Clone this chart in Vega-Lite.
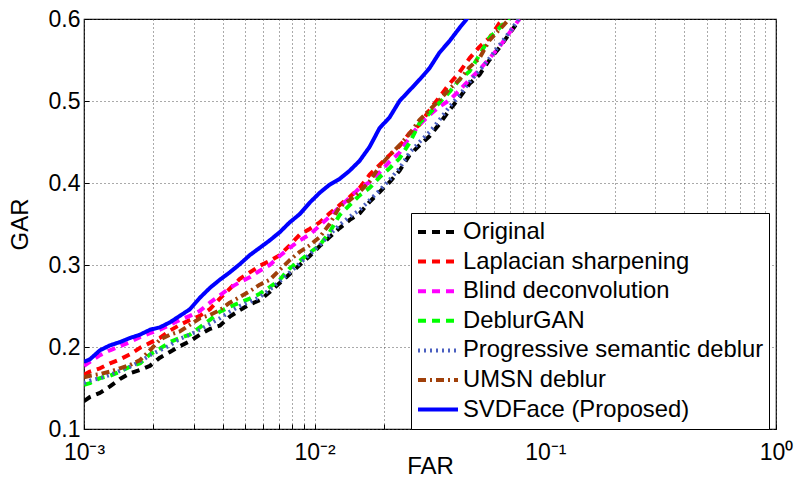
{
  "$schema": "https://vega.github.io/schema/vega-lite/v6.json",
  "width": 692,
  "height": 410,
  "autosize": "none",
  "padding": {"left": 84, "top": 19, "right": 19, "bottom": 51},
  "background": "white",
  "config": {"font": "Liberation Sans", "view": {"stroke": "black", "strokeWidth": 1.2}},
  "data": {"values": [
    {"far": 0.001, "Original": 0.134, "Laplacian sharpening": 0.166, "Blind deconvolution": 0.177, "DeblurGAN": 0.154, "Progressive semantic deblur": 0.156, "UMSN deblur": 0.163, "SVDFace (Proposed)": 0.182},
    {"far": 0.001061, "Original": 0.139, "Laplacian sharpening": 0.170, "Blind deconvolution": 0.182, "DeblurGAN": 0.156, "Progressive semantic deblur": 0.159, "UMSN deblur": 0.165, "SVDFace (Proposed)": 0.185},
    {"far": 0.001173, "Original": 0.144, "Laplacian sharpening": 0.174, "Blind deconvolution": 0.190, "DeblurGAN": 0.162, "Progressive semantic deblur": 0.162, "UMSN deblur": 0.167, "SVDFace (Proposed)": 0.196},
    {"far": 0.001296, "Original": 0.152, "Laplacian sharpening": 0.180, "Blind deconvolution": 0.196, "DeblurGAN": 0.165, "Progressive semantic deblur": 0.166, "UMSN deblur": 0.170, "SVDFace (Proposed)": 0.202},
    {"far": 0.001432, "Original": 0.161, "Laplacian sharpening": 0.185, "Blind deconvolution": 0.201, "DeblurGAN": 0.170, "Progressive semantic deblur": 0.171, "UMSN deblur": 0.174, "SVDFace (Proposed)": 0.206},
    {"far": 0.001582, "Original": 0.168, "Laplacian sharpening": 0.191, "Blind deconvolution": 0.206, "DeblurGAN": 0.176, "Progressive semantic deblur": 0.176, "UMSN deblur": 0.178, "SVDFace (Proposed)": 0.211},
    {"far": 0.001748, "Original": 0.172, "Laplacian sharpening": 0.199, "Blind deconvolution": 0.212, "DeblurGAN": 0.180, "Progressive semantic deblur": 0.182, "UMSN deblur": 0.184, "SVDFace (Proposed)": 0.215},
    {"far": 0.001931, "Original": 0.177, "Laplacian sharpening": 0.205, "Blind deconvolution": 0.217, "DeblurGAN": 0.191, "Progressive semantic deblur": 0.190, "UMSN deblur": 0.196, "SVDFace (Proposed)": 0.221},
    {"far": 0.002133, "Original": 0.187, "Laplacian sharpening": 0.211, "Blind deconvolution": 0.221, "DeblurGAN": 0.198, "Progressive semantic deblur": 0.196, "UMSN deblur": 0.209, "SVDFace (Proposed)": 0.224},
    {"far": 0.002357, "Original": 0.194, "Laplacian sharpening": 0.220, "Blind deconvolution": 0.227, "DeblurGAN": 0.206, "Progressive semantic deblur": 0.202, "UMSN deblur": 0.215, "SVDFace (Proposed)": 0.230},
    {"far": 0.002604, "Original": 0.201, "Laplacian sharpening": 0.227, "Blind deconvolution": 0.233, "DeblurGAN": 0.211, "Progressive semantic deblur": 0.210, "UMSN deblur": 0.219, "SVDFace (Proposed)": 0.238},
    {"far": 0.002877, "Original": 0.207, "Laplacian sharpening": 0.233, "Blind deconvolution": 0.238, "DeblurGAN": 0.215, "Progressive semantic deblur": 0.215, "UMSN deblur": 0.227, "SVDFace (Proposed)": 0.246},
    {"far": 0.003178, "Original": 0.215, "Laplacian sharpening": 0.238, "Blind deconvolution": 0.244, "DeblurGAN": 0.224, "Progressive semantic deblur": 0.221, "UMSN deblur": 0.235, "SVDFace (Proposed)": 0.260},
    {"far": 0.003512, "Original": 0.222, "Laplacian sharpening": 0.246, "Blind deconvolution": 0.254, "DeblurGAN": 0.233, "Progressive semantic deblur": 0.228, "UMSN deblur": 0.239, "SVDFace (Proposed)": 0.272},
    {"far": 0.003879, "Original": 0.226, "Laplacian sharpening": 0.259, "Blind deconvolution": 0.263, "DeblurGAN": 0.243, "Progressive semantic deblur": 0.235, "UMSN deblur": 0.245, "SVDFace (Proposed)": 0.282},
    {"far": 0.004285, "Original": 0.237, "Laplacian sharpening": 0.271, "Blind deconvolution": 0.272, "DeblurGAN": 0.249, "Progressive semantic deblur": 0.243, "UMSN deblur": 0.254, "SVDFace (Proposed)": 0.291},
    {"far": 0.004735, "Original": 0.245, "Laplacian sharpening": 0.283, "Blind deconvolution": 0.279, "DeblurGAN": 0.254, "Progressive semantic deblur": 0.250, "UMSN deblur": 0.261, "SVDFace (Proposed)": 0.301},
    {"far": 0.005232, "Original": 0.252, "Laplacian sharpening": 0.291, "Blind deconvolution": 0.285, "DeblurGAN": 0.259, "Progressive semantic deblur": 0.255, "UMSN deblur": 0.268, "SVDFace (Proposed)": 0.312},
    {"far": 0.00578, "Original": 0.257, "Laplacian sharpening": 0.299, "Blind deconvolution": 0.293, "DeblurGAN": 0.265, "Progressive semantic deblur": 0.261, "UMSN deblur": 0.276, "SVDFace (Proposed)": 0.321},
    {"far": 0.006386, "Original": 0.267, "Laplacian sharpening": 0.305, "Blind deconvolution": 0.300, "DeblurGAN": 0.273, "Progressive semantic deblur": 0.270, "UMSN deblur": 0.282, "SVDFace (Proposed)": 0.330},
    {"far": 0.007055, "Original": 0.278, "Laplacian sharpening": 0.312, "Blind deconvolution": 0.311, "DeblurGAN": 0.282, "Progressive semantic deblur": 0.280, "UMSN deblur": 0.294, "SVDFace (Proposed)": 0.340},
    {"far": 0.007795, "Original": 0.289, "Laplacian sharpening": 0.324, "Blind deconvolution": 0.321, "DeblurGAN": 0.296, "Progressive semantic deblur": 0.291, "UMSN deblur": 0.306, "SVDFace (Proposed)": 0.352},
    {"far": 0.008612, "Original": 0.300, "Laplacian sharpening": 0.337, "Blind deconvolution": 0.330, "DeblurGAN": 0.305, "Progressive semantic deblur": 0.302, "UMSN deblur": 0.316, "SVDFace (Proposed)": 0.362},
    {"far": 0.009515, "Original": 0.311, "Laplacian sharpening": 0.344, "Blind deconvolution": 0.337, "DeblurGAN": 0.315, "Progressive semantic deblur": 0.313, "UMSN deblur": 0.324, "SVDFace (Proposed)": 0.376},
    {"far": 0.01051, "Original": 0.323, "Laplacian sharpening": 0.352, "Blind deconvolution": 0.348, "DeblurGAN": 0.324, "Progressive semantic deblur": 0.324, "UMSN deblur": 0.334, "SVDFace (Proposed)": 0.388},
    {"far": 0.01161, "Original": 0.334, "Laplacian sharpening": 0.363, "Blind deconvolution": 0.359, "DeblurGAN": 0.340, "Progressive semantic deblur": 0.337, "UMSN deblur": 0.350, "SVDFace (Proposed)": 0.398},
    {"far": 0.01283, "Original": 0.345, "Laplacian sharpening": 0.373, "Blind deconvolution": 0.371, "DeblurGAN": 0.361, "Progressive semantic deblur": 0.349, "UMSN deblur": 0.371, "SVDFace (Proposed)": 0.405},
    {"far": 0.01418, "Original": 0.355, "Laplacian sharpening": 0.383, "Blind deconvolution": 0.382, "DeblurGAN": 0.373, "Progressive semantic deblur": 0.359, "UMSN deblur": 0.379, "SVDFace (Proposed)": 0.415},
    {"far": 0.01566, "Original": 0.363, "Laplacian sharpening": 0.394, "Blind deconvolution": 0.394, "DeblurGAN": 0.385, "Progressive semantic deblur": 0.367, "UMSN deblur": 0.389, "SVDFace (Proposed)": 0.427},
    {"far": 0.0173, "Original": 0.377, "Laplacian sharpening": 0.410, "Blind deconvolution": 0.401, "DeblurGAN": 0.394, "Progressive semantic deblur": 0.379, "UMSN deblur": 0.402, "SVDFace (Proposed)": 0.444},
    {"far": 0.01912, "Original": 0.389, "Laplacian sharpening": 0.422, "Blind deconvolution": 0.413, "DeblurGAN": 0.407, "Progressive semantic deblur": 0.391, "UMSN deblur": 0.420, "SVDFace (Proposed)": 0.467},
    {"far": 0.02112, "Original": 0.401, "Laplacian sharpening": 0.434, "Blind deconvolution": 0.426, "DeblurGAN": 0.418, "Progressive semantic deblur": 0.404, "UMSN deblur": 0.434, "SVDFace (Proposed)": 0.480},
    {"far": 0.02333, "Original": 0.415, "Laplacian sharpening": 0.445, "Blind deconvolution": 0.437, "DeblurGAN": 0.430, "Progressive semantic deblur": 0.418, "UMSN deblur": 0.446, "SVDFace (Proposed)": 0.500},
    {"far": 0.02578, "Original": 0.434, "Laplacian sharpening": 0.461, "Blind deconvolution": 0.456, "DeblurGAN": 0.449, "Progressive semantic deblur": 0.437, "UMSN deblur": 0.460, "SVDFace (Proposed)": 0.513},
    {"far": 0.02848, "Original": 0.446, "Laplacian sharpening": 0.471, "Blind deconvolution": 0.471, "DeblurGAN": 0.473, "Progressive semantic deblur": 0.450, "UMSN deblur": 0.477, "SVDFace (Proposed)": 0.526},
    {"far": 0.03147, "Original": 0.457, "Laplacian sharpening": 0.489, "Blind deconvolution": 0.483, "DeblurGAN": 0.485, "Progressive semantic deblur": 0.462, "UMSN deblur": 0.489, "SVDFace (Proposed)": 0.540},
    {"far": 0.03476, "Original": 0.472, "Laplacian sharpening": 0.505, "Blind deconvolution": 0.493, "DeblurGAN": 0.498, "Progressive semantic deblur": 0.477, "UMSN deblur": 0.501, "SVDFace (Proposed)": 0.559},
    {"far": 0.03841, "Original": 0.489, "Laplacian sharpening": 0.521, "Blind deconvolution": 0.501, "DeblurGAN": 0.511, "Progressive semantic deblur": 0.493, "UMSN deblur": 0.515, "SVDFace (Proposed)": 0.573},
    {"far": 0.04243, "Original": 0.504, "Laplacian sharpening": 0.535, "Blind deconvolution": 0.513, "DeblurGAN": 0.526, "Progressive semantic deblur": 0.507, "UMSN deblur": 0.526, "SVDFace (Proposed)": 0.589},
    {"far": 0.04688, "Original": 0.521, "Laplacian sharpening": 0.552, "Blind deconvolution": 0.526, "DeblurGAN": 0.536, "Progressive semantic deblur": 0.523, "UMSN deblur": 0.541, "SVDFace (Proposed)": 0.604},
    {"far": 0.05179, "Original": 0.532, "Laplacian sharpening": 0.566, "Blind deconvolution": 0.538, "DeblurGAN": 0.556, "Progressive semantic deblur": 0.537, "UMSN deblur": 0.552},
    {"far": 0.05722, "Original": 0.550, "Laplacian sharpening": 0.577, "Blind deconvolution": 0.552, "DeblurGAN": 0.577, "Progressive semantic deblur": 0.552, "UMSN deblur": 0.574},
    {"far": 0.06322, "Original": 0.565, "Laplacian sharpening": 0.595, "Blind deconvolution": 0.566, "DeblurGAN": 0.589, "Progressive semantic deblur": 0.568, "UMSN deblur": 0.587},
    {"far": 0.06985, "Original": 0.582, "Laplacian sharpening": 0.608, "Blind deconvolution": 0.583, "DeblurGAN": 0.602, "Progressive semantic deblur": 0.584, "UMSN deblur": 0.600},
    {"far": 0.07716, "Original": 0.599, "Blind deconvolution": 0.600, "Progressive semantic deblur": 0.601}
  ]},
  "transform": [
    {"fold": ["Original", "Laplacian sharpening", "Blind deconvolution", "DeblurGAN", "Progressive semantic deblur", "UMSN deblur", "SVDFace (Proposed)"], "as": ["method", "gar"]},
    {"filter": "isValid(datum.gar)"}
  ],
  "mark": {"type": "line", "clip": true, "strokeCap": "butt", "strokeJoin": "round"},
  "encoding": {
    "x": {
      "field": "far", "type": "quantitative",
      "scale": {"type": "log", "domain": [0.001, 1], "nice": false},
      "axis": {
        "values": [0.001, 0.002, 0.003, 0.004, 0.005, 0.006, 0.007, 0.008, 0.009, 0.01, 0.02, 0.03, 0.04, 0.05, 0.06, 0.07, 0.08, 0.09, 0.1, 0.2, 0.3, 0.4, 0.5, 0.6, 0.7, 0.8, 0.9, 1],
        "labelExpr": "datum.value == 0.001 ? '10⁻³' : datum.value == 0.01 ? '10⁻²' : datum.value == 0.1 ? '10⁻¹' : datum.value == 1 ? '10⁰' : ''",
        "grid": true, "gridDash": [1, 3], "gridColor": "#555", "gridWidth": 1,
        "domain": false, "ticks": true, "tickSize": -5, "tickColor": "black", "tickWidth": 1,
        "labelFontSize": 23, "labelColor": "black", "labelPadding": 17, "labelFlush": false, "labelOverlap": false,
        "title": "FAR", "titleFontSize": 24, "titleFontWeight": "normal", "titleColor": "black", "titleY": 25, "titleBaseline": "top"
      }
    },
    "y": {
      "field": "gar", "type": "quantitative",
      "scale": {"domain": [0.1, 0.6], "nice": false, "zero": false},
      "axis": {
        "values": [0.1, 0.2, 0.3, 0.4, 0.5, 0.6], "format": ".1f",
        "grid": true, "gridDash": [1, 3], "gridColor": "#555", "gridWidth": 1,
        "domain": false, "ticks": true, "tickSize": -5, "tickColor": "black", "tickWidth": 1,
        "labelFontSize": 23, "labelColor": "black", "labelPadding": 9,
        "title": "GAR", "titleFontSize": 24, "titleFontWeight": "normal", "titleColor": "black", "titlePadding": 16
      }
    },
    "color": {
      "field": "method", "type": "nominal",
      "scale": {
        "domain": ["Original", "Laplacian sharpening", "Blind deconvolution", "DeblurGAN", "Progressive semantic deblur", "UMSN deblur", "SVDFace (Proposed)"],
        "range": ["#000000", "#ff0000", "#ff00ff", "#00ff00", "#4a5fc0", "#a0400a", "#0000ff"]
      },
      "legend": {
        "orient": "none", "legendX": 327, "legendY": 194, "title": null,
        "strokeColor": "black", "fillColor": "white", "padding": 5,
        "labelFontSize": 23.8, "labelColor": "black", "labelLimit": 400, "labelOffset": 3,
        "symbolType": "stroke", "symbolSize": 1600, "symbolStrokeWidth": 4,
        "clipHeight": 28, "rowPadding": 1.6
      }
    },
    "strokeDash": {
      "field": "method", "type": "nominal",
      "scale": {
        "domain": ["Original", "Laplacian sharpening", "Blind deconvolution", "DeblurGAN", "Progressive semantic deblur", "UMSN deblur", "SVDFace (Proposed)"],
        "range": [[8, 6], [8, 6], [8, 6], [8, 6], [2, 4], [8, 4, 2, 4], [1, 0]]
      }
    },
    "strokeWidth": {
      "field": "method", "type": "nominal",
      "scale": {
        "domain": ["Original", "Laplacian sharpening", "Blind deconvolution", "DeblurGAN", "Progressive semantic deblur", "UMSN deblur", "SVDFace (Proposed)"],
        "range": [4, 4, 4, 4, 1.8, 3.5, 4.5]
      },
      "legend": null
    }
  }
}
